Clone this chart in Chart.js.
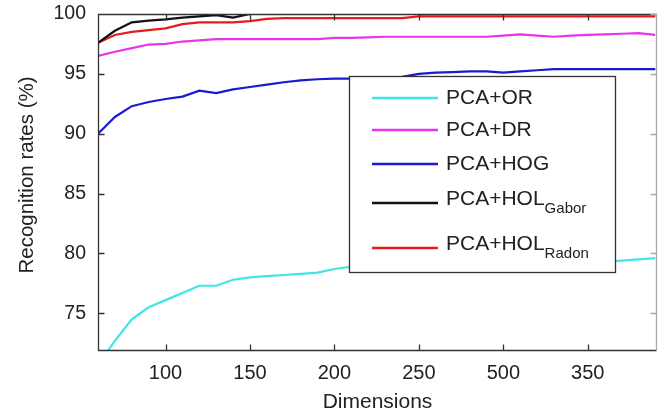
<!DOCTYPE html>
<html>
<head>
<meta charset="utf-8">
<script src="https://cdn.jsdelivr.net/npm/chart.js@4/dist/chart.umd.min.js"></script>
<style>
  html, body { margin: 0; padding: 0; background: #fff; }
</style>
</head>
<body>
<canvas id="rateChart" width="665" height="415"></canvas>
<script>
// Dimensions sampled along the x axis
const dimensions = [60, 70, 80, 90, 100, 110, 120, 130, 140, 150, 160, 170, 180, 190, 200, 210, 220,
  230, 240, 250, 260, 270, 280, 290, 300, 310, 320, 330, 340, 350, 360, 370, 380, 390]

// Recognition rates (%) per method
const pcaOR = [70.7, 72.7, 74.5, 75.5, 76.1, 76.7, 77.3, 77.3, 77.8, 78.0, 78.1, 78.2, 78.3, 78.4, 78.7, 78.9, 79.0,
  79.0, 79.1, 79.1, 79.1, 79.2, 79.2, 79.2, 79.2, 79.3, 79.3, 79.3, 79.3, 79.3, 79.3, 79.4, 79.5, 79.6]
const pcaDR = [96.5, 96.85, 97.15, 97.45, 97.5, 97.7, 97.8, 97.9, 97.9, 97.9, 97.9, 97.9, 97.9, 97.9, 98.0, 98.0, 98.05,
  98.1, 98.1, 98.1, 98.1, 98.1, 98.1, 98.1, 98.2, 98.3, 98.2, 98.1, 98.2, 98.25, 98.3, 98.35, 98.4, 98.25]
const pcaHOG = [90.0, 91.4, 92.3, 92.65, 92.9, 93.1, 93.6, 93.4, 93.7, 93.9, 94.1, 94.3, 94.45, 94.55, 94.6, 94.6, 94.65,
  94.7, 94.75, 95.0, 95.1, 95.15, 95.2, 95.2, 95.1, 95.2, 95.3, 95.4, 95.4, 95.4, 95.4, 95.4, 95.4, 95.4]
const pcaHOLGabor = [97.6, 98.6, 99.3, 99.45, 99.55, 99.7, 99.8, 99.9, 99.7, 100, 100, 100, 100, 100, 100, 100, 100,
  100, 100, 100, 100, 100, 100, 100, 100, 100, 100, 100, 100, 100, 100, 100, 100, 100]
const pcaHOLRadon = [97.6, 98.25, 98.5, 98.65, 98.8, 99.15, 99.3, 99.3, 99.3, 99.4, 99.6, 99.65, 99.65, 99.65, 99.65, 99.65, 99.65,
  99.65, 99.65, 99.8, 99.8, 99.8, 99.8, 99.8, 99.8, 99.8, 99.8, 99.8, 99.8, 99.8, 99.8, 99.8, 99.8, 99.8]

const seriesNames = ["PCA+OR", "PCA+DR", "PCA+HOG", "PCA+HOL", "PCA+HOL"]
const seriesSubs = ["", "", "", "Gabor", "Radon"]
const seriesColors = ["#3ee6e6", "#e636e8", "#1a1ad2", "#111111", "#e81a20"]

// Axis ticks (the source figure prints "500" at the 300 position)
const xTickValues = [100, 150, 200, 250, 300, 350]
const xTickLabels = ["100", "150", "200", "250", "500", "350"]
const yTickValues = [75, 80, 85, 90, 95, 100]

const FONT = "'Liberation Sans', Arial, sans-serif"
const seriesValues = [pcaOR, pcaDR, pcaHOG, pcaHOLGabor, pcaHOLRadon]

// Box around the plot with inward ticks on all four sides
const frame = {
  id: "frame",
  afterDatasetsDraw(chart) {
    const { ctx, chartArea: a, scales } = chart
    const L = Math.round(a.left) + 0.5
    const R = Math.round(a.right) - 0.5
    const T = Math.round(a.top) + 0.5
    const B = Math.round(a.bottom) - 0.5
    const tl = 6
    ctx.save()
    ctx.lineWidth = 1.3
    ctx.strokeStyle = "#333"
    ctx.beginPath()
    ctx.moveTo(R, T); ctx.lineTo(L, T); ctx.lineTo(L, B); ctx.lineTo(R, B)
    xTickValues.forEach((v) => {
      const x = Math.round(scales.x.getPixelForValue(v)) + 0.5
      ctx.moveTo(x, B); ctx.lineTo(x, B - tl)
      ctx.moveTo(x, T); ctx.lineTo(x, T + tl)
    })
    yTickValues.forEach((v) => {
      const y = Math.round(scales.y.getPixelForValue(v)) + 0.5
      ctx.moveTo(L, y); ctx.lineTo(L + tl, y)
    })
    ctx.stroke()
    ctx.strokeStyle = "#aaa"
    ctx.beginPath()
    ctx.moveTo(R, T); ctx.lineTo(R, B)
    yTickValues.forEach((v) => {
      const y = Math.round(scales.y.getPixelForValue(v)) + 0.5
      ctx.moveTo(R, y); ctx.lineTo(R - tl, y)
    })
    ctx.stroke()

    // y axis title, sitting a little above the axis centre as in the source
    ctx.translate(33, 175)
    ctx.rotate(-Math.PI / 2)
    ctx.fillStyle = "#222"
    ctx.font = "20.5px " + FONT
    ctx.textAlign = "center"
    ctx.textBaseline = "alphabetic"
    ctx.fillText("Recognition rates (%)", 0, 0)
    ctx.restore()
  },
}

// Legend box with subscripts, like the original figure
const boxLegend = {
  id: "boxLegend",
  afterDatasetsDraw(chart) {
    const { ctx } = chart
    const box = { x: 349, y: 76, w: 266, h: 196 }
    const rowY = [98, 130, 164, 203, 248]
    ctx.save()
    ctx.fillStyle = "#fff"
    ctx.fillRect(box.x, box.y, box.w, box.h)
    ctx.strokeStyle = "#333"
    ctx.lineWidth = 1.3
    ctx.strokeRect(box.x + 0.5, box.y + 0.5, box.w, box.h)
    chart.data.datasets.forEach((ds, i) => {
      const y = rowY[i]
      ctx.strokeStyle = ds.borderColor
      ctx.lineWidth = 2.5
      ctx.beginPath()
      ctx.moveTo(372, y)
      ctx.lineTo(438, y)
      ctx.stroke()
      ctx.fillStyle = "#222"
      ctx.textBaseline = "middle"
      ctx.font = "21px " + FONT
      const sub = seriesSubs[i]
      const ty = sub ? y - 4 : y
      ctx.fillText(seriesNames[i], 446, ty)
      if (sub) {
        const w = ctx.measureText(seriesNames[i]).width
        ctx.font = "15px " + FONT
        ctx.fillText(sub, 446 + w, y + 6)
      }
    })
    ctx.restore()
  },
}

const ctx = document.getElementById("rateChart").getContext("2d")
new Chart(ctx, {
  type: "line",
  data: {
    datasets: seriesValues.map((vals, i) => ({
      label: seriesNames[i] + seriesSubs[i],
      data: dimensions.map((d, j) => ({ x: d, y: vals[j] })),
      borderColor: seriesColors[i],
      borderWidth: 2.2,
      pointRadius: 0,
      tension: 0,
      fill: false,
    })),
  },
  options: {
    responsive: false,
    animation: false,
    layout: { padding: { top: 14, right: 8, left: 0, bottom: 0 } },
    plugins: {
      legend: { display: false },
      tooltip: { enabled: false },
    },
    scales: {
      x: {
        type: "linear",
        min: 60,
        max: 391,
        grid: { display: false, drawTicks: false },
        border: { display: false },
        afterBuildTicks: (scale) => {
          scale.ticks = xTickValues.map((v) => ({ value: v }))
        },
        afterFit: (scale) => {
          scale.height = 64
          scale.paddingLeft = 0
          scale.paddingRight = 0
        },
        ticks: {
          padding: 10,
          color: "#222",
          font: { family: FONT, size: 20 },
          maxRotation: 0,
          callback: (value) => xTickLabels[xTickValues.indexOf(value)],
        },
        title: {
          display: true,
          text: "Dimensions",
          color: "#222",
          font: { family: FONT, size: 21 },
          padding: { top: 0, bottom: 0 },
        },
      },
      y: {
        min: 71.85,
        max: 100,
        grid: { display: false, drawTicks: false },
        border: { display: false },
        afterBuildTicks: (scale) => {
          scale.ticks = yTickValues.map((v) => ({ value: v }))
        },
        afterFit: (scale) => {
          scale.width = 98
          scale.paddingTop = 0
          scale.paddingBottom = 0
        },
        ticks: {
          padding: 12,
          color: "#222",
          font: { family: FONT, size: 19.5 },
        },
      },
    },
  },
  plugins: [frame, boxLegend],
})
</script>
</body>
</html>
